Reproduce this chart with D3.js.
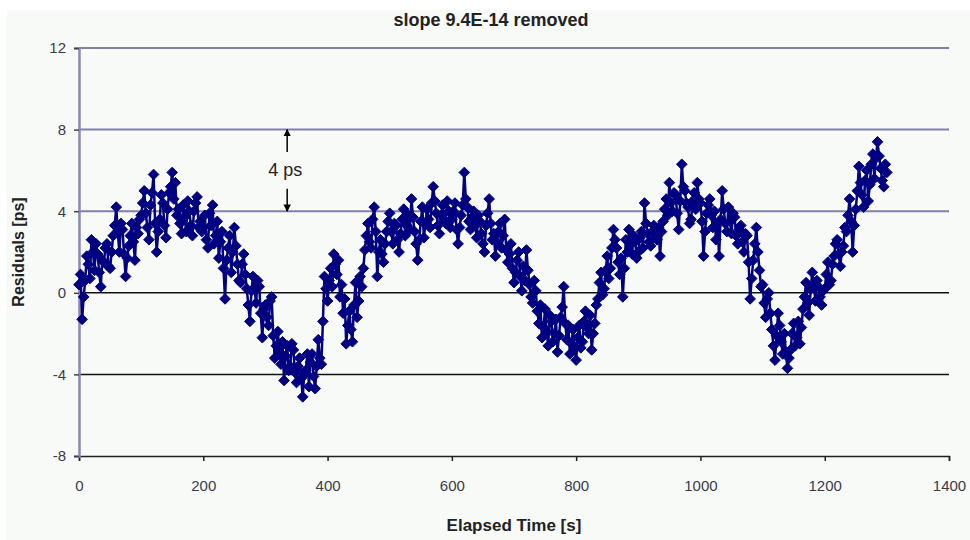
<!DOCTYPE html>
<html>
<head>
<meta charset="utf-8">
<script src="https://cdn.jsdelivr.net/npm/d3@7"></script>
<style>
  body { margin: 0; background: #fff; }
  svg { display: block; }
</style>
</head>
<body>
<div id="chart"></div>
<script>
// residuals in ps, one sample every 2.5 s
const sampleStep = 2.5
const residuals = [
    // 0 - 97.5
    0.4, 0.9, -1.3, -0.2, 0.6, 1.8, 1.4, 0.7, 2.6, 2.0, 1.1, 2.4, 1.9, 1.0, 0.3, 1.6, 1.5, 2.2, 2.4, 1.3,
    1.2, 2.0, 2.8, 3.3, 4.2, 2.9, 2.0, 3.4, 3.1, 1.9, 0.8, 1.7, 2.3, 2.8, 3.4, 2.5, 1.6, 3.2, 2.9, 3.6,
    // 100 - 197.5
    3.8, 4.4, 5.0, 3.9, 3.2, 2.6, 4.3, 4.9, 5.8, 3.4, 2.0, 3.0, 3.6, 4.8, 4.4, 3.3, 2.7, 4.1, 4.9, 5.2,
    5.9, 4.6, 5.4, 3.8, 4.1, 3.4, 2.9, 4.3, 3.7, 3.0, 4.5, 4.0, 3.3, 2.8, 4.0, 4.4, 4.7, 3.2, 3.5, 3.0,
    // 200 - 297.5
    3.2, 3.8, 2.6, 2.2, 3.9, 3.3, 4.3, 2.4, 2.8, 3.5, 1.7, 2.5, 3.0, 1.2, -0.3, 1.6, 2.2, 2.8, 1.0, 2.0,
    3.2, 2.3, 1.4, 0.6, 0.5, 1.4, 1.9, 0.9, 0.2, -0.6, -1.4, 0.1, 0.8, 0.2, -0.5, 0.6, 0.3, -1.0, -2.2, -0.8,
    // 300 - 397.5
    -0.6, -1.2, -1.6, -0.4, -0.2, -2.1, -3.2, -2.6, -1.9, -2.9, -3.5, -2.4, -4.3, -3.1, -2.6, -3.8, -3.6, -2.5, -2.8, -3.9,
    -4.4, -3.6, -3.2, -4.2, -5.1, -4.0, -3.8, -3.0, -4.6, -3.4, -3.0, -4.1, -4.7, -3.6, -2.3, -3.2, -3.5, -1.4, 0.8, 0.2,
    // 400 - 497.5
    -0.4, 0.6, 1.2, 0.3, 1.9, 1.4, 0.9, 1.6, -0.2, 0.4, -1.0, -0.3, -2.5, -1.6, -0.9, -1.8, -2.4, -0.6, 0.5, -1.2,
    -0.4, 0.8, 0.3, 1.2, 2.1, 2.8, 3.4, 2.5, 2.2, 3.6, 4.2, 3.0, 0.8, 2.0, 2.6, 1.9, 1.5, 2.4, 3.0, 3.5,
    // 500 - 597.5
    3.9, 3.0, 2.4, 3.4, 3.3, 2.6, 2.0, 2.9, 3.6, 4.1, 2.8, 3.3, 3.8, 3.1, 4.6, 3.7, 3.0, 2.4, 1.6, 2.6,
    3.5, 4.2, 2.7, 3.4, 4.1, 3.6, 3.2, 4.4, 5.2, 4.5, 3.9, 3.3, 2.9, 3.8, 4.3, 3.6, 3.4, 4.5, 4.0, 3.2,
    // 600 - 697.5
    3.6, 4.0, 4.4, 3.1, 2.4, 3.2, 3.8, 4.3, 5.9, 4.6, 4.2, 3.5, 3.1, 3.7, 4.0, 3.3, 2.7, 3.8, 3.5, 2.9,
    2.4, 2.0, 3.3, 3.9, 4.6, 3.4, 2.6, 2.9, 1.8, 2.5, 3.0, 3.4, 2.2, 2.8, 3.6, 2.1, 1.5, 1.9, 2.4, 1.2,
    // 700 - 797.5
    0.5, 1.0, 1.6, 2.0, 0.8, 0.1, 1.3, 0.6, 2.1, 1.1, 0.4, -0.2, -0.5, 0.6, 0.1, -0.9, -1.5, -0.6, -2.2, -1.7,
    -0.8, -1.9, -2.6, -1.1, -1.4, -2.4, -2.0, -1.3, -2.9, -2.1, -1.2, -0.7, 0.3, -1.5, -2.3, -1.6, -3.0, -2.5, -1.8, -2.7,
    // 800 - 897.5
    -3.3, -2.2, -1.6, -2.7, -2.4, -1.4, -0.9, -1.7, -2.0, -1.1, -2.8, -2.0, -1.5, -0.6, -0.3, 0.5, 1.0, -0.1, 0.2, 1.1,
    1.8, 0.7, 1.2, 2.2, 3.1, 2.6, 2.2, 1.5, 0.9, 1.7, -0.2, 1.2, 2.6, 2.0, 3.1, 2.4, 1.9, 2.8, 2.5, 1.7,
    // 900 - 997.5
    2.0, 2.7, 3.0, 2.2, 4.4, 3.4, 2.9, 2.5, 2.3, 3.0, 3.3, 2.7, 2.6, 3.2, 1.8, 3.0, 3.5, 4.1, 4.6, 3.8,
    5.4, 4.4, 4.0, 4.9, 4.8, 3.9, 3.1, 4.5, 6.3, 5.2, 5.0, 4.4, 4.2, 3.4, 3.6, 4.5, 4.9, 4.1, 5.4, 4.6,
    // 1000 - 1097.5
    4.4, 3.5, 1.8, 3.0, 3.9, 4.3, 4.6, 3.8, 3.2, 4.0, 2.6, 3.4, 1.8, 3.6, 5.0, 4.1, 3.4, 3.0, 4.2, 3.5,
    2.9, 3.9, 3.7, 2.8, 2.4, 3.1, 3.3, 2.5, 2.0, 2.9, 2.8, 1.5, -0.3, 0.7, 1.6, 2.4, 3.2, 2.0, 1.1, 0.3,
    // 1100 - 1197.5
    0.4, -0.5, -1.2, -0.3, 0.0, -1.0, -1.8, -2.6, -3.3, -2.1, -1.0, -1.6, -2.4, -3.0, -2.0, -2.9, -3.7, -3.2, -2.8, -2.0,
    -1.5, -2.6, -2.2, -1.4, -2.5, -1.7, -0.8, -0.2, 0.5, -0.5, -1.1, 0.2, 1.0, 0.4, -0.4, 0.6, 0.3, -0.2, -0.6, 0.1,
    // 1200 - 1300
    0.2, 0.9, 1.5, 0.4, 0.6, 1.4, 1.8, 2.4, 2.6, 1.9, 1.3, 2.0, 2.3, 3.2, 3.0, 3.8, 4.6, 3.5, 2.0, 3.3,
    4.1, 5.0, 6.2, 5.4, 4.8, 4.2, 5.5, 6.0, 4.5, 5.3, 6.3, 6.8, 5.6, 6.6, 7.4, 6.7, 6.1, 5.5, 5.2, 6.3, 5.9
]
const times = residuals.map((d, i) => i * sampleStep)

const xTicks = [0, 200, 400, 600, 800, 1000, 1200, 1400]
const yTicks = [-8, -4, 0, 4, 8, 12]
const blueGrid = [4, 8, 12]     // grey-blue lines
const blackGrid = [-4, 0]       // black lines

const navy = '#000080'
const W = 970, H = 540
const x0 = 79, x1 = 949, yTop = 48, yBot = 456
const font = 'Arial, "Liberation Sans", sans-serif'

const svg = d3.select('#chart').append('svg')
    .attr('width', W).attr('height', H)
    .style('font-family', font)

svg.append('rect').attr('x', 7).attr('y', 10).attr('width', W - 7).attr('height', H - 10)
    .attr('fill', '#f8faf8')

const xScale = d3.scaleLinear().domain([0, 1400]).range([x0, x1])
const yScale = d3.scaleLinear().domain([-8, 12]).range([yBot, yTop])

// gridlines
svg.selectAll('line.gridB').data(blueGrid).enter().append('line')
    .attr('class', 'gridB')
    .attr('x1', x0).attr('x2', x1)
    .attr('y1', d => yScale(d)).attr('y2', d => yScale(d))
    .attr('stroke', '#8080a8').attr('stroke-width', 2)
svg.selectAll('line.gridK').data(blackGrid).enter().append('line')
    .attr('class', 'gridK')
    .attr('x1', x0).attr('x2', x1)
    .attr('y1', d => yScale(d)).attr('y2', d => yScale(d))
    .attr('stroke', '#111').attr('stroke-width', 1.5)

// x axis
const xAxis = d3.axisBottom(xScale).tickValues(xTicks).tickSize(5).tickPadding(19)
    .tickFormat(d => String(d))
const gx = svg.append('g').attr('transform', `translate(0,${yBot})`).call(xAxis)
gx.select('.domain').attr('stroke', '#222').attr('stroke-width', 1.5)
gx.selectAll('.tick line').attr('stroke', '#222').attr('stroke-width', 1.5)
gx.selectAll('.tick text').attr('font-size', 15).attr('fill', '#3a3a4a')
    .style('font-family', font)

// y axis
const yAxis = d3.axisLeft(yScale).tickValues(yTicks).tickSize(5).tickPadding(8)
    .tickFormat(d => String(d))
const gy = svg.append('g').attr('transform', `translate(${x0},0)`).call(yAxis)
gy.select('.domain').attr('stroke', '#8888b8').attr('stroke-width', 2.5)
gy.selectAll('.tick line').attr('stroke', '#444').attr('stroke-width', 1.5)
gy.selectAll('.tick text').attr('font-size', 15).attr('fill', '#3a3a4a')
    .style('font-family', font)

// series line
const line = d3.line().x((d, i) => xScale(times[i])).y(d => yScale(d))
svg.append('path').datum(residuals)
    .attr('d', line)
    .attr('fill', 'none')
    .attr('stroke', navy)
    .attr('stroke-width', 2.5)
    .attr('stroke-linejoin', 'round')

// diamond markers
const diamond = d3.symbol().type(d3.symbolDiamond2).size(72)
svg.selectAll('path.pt').data(residuals).enter().append('path')
    .attr('class', 'pt')
    .attr('d', diamond)
    .attr('transform', (d, i) => `translate(${xScale(times[i])},${yScale(d)})`)
    .attr('fill', navy)
    .attr('stroke', navy)
    .attr('stroke-width', 1)

// annotation: 4 ps between the 8 and 4 lines
const ax = xScale(335)
svg.append('defs').append('marker')
    .attr('id', 'head').attr('viewBox', '0 0 10 10')
    .attr('refX', 9).attr('refY', 5)
    .attr('markerWidth', 5).attr('markerHeight', 5)
    .attr('orient', 'auto-start-reverse')
    .append('path').attr('d', 'M0,0L10,5L0,10Z').attr('fill', '#000')
svg.append('line')
    .attr('x1', ax).attr('x2', ax)
    .attr('y1', yScale(6.9)).attr('y2', yScale(8))
    .attr('stroke', '#000').attr('stroke-width', 1.5)
    .attr('marker-end', 'url(#head)')
svg.append('line')
    .attr('x1', ax).attr('x2', ax)
    .attr('y1', yScale(5.1)).attr('y2', yScale(4))
    .attr('stroke', '#000').attr('stroke-width', 1.5)
    .attr('marker-end', 'url(#head)')
svg.append('text')
    .attr('x', ax - 2).attr('y', yScale(6) + 6)
    .attr('text-anchor', 'middle')
    .attr('font-size', 18)
    .attr('fill', '#222')
    .text('4 ps')

// titles
svg.append('text')
    .attr('x', 491).attr('y', 26)
    .attr('text-anchor', 'middle')
    .attr('font-size', 18).attr('font-weight', 'bold')
    .attr('fill', '#222')
    .text('slope 9.4E-14 removed')

svg.append('text')
    .attr('x', 514).attr('y', 531)
    .attr('text-anchor', 'middle')
    .attr('font-size', 17).attr('font-weight', 'bold')
    .attr('fill', '#222')
    .text('Elapsed Time [s]')

svg.append('text')
    .attr('transform', 'translate(24,252) rotate(-90)')
    .attr('text-anchor', 'middle')
    .attr('font-size', 16).attr('font-weight', 'bold')
    .attr('fill', '#222')
    .text('Residuals [ps]')
</script>
</body>
</html>
